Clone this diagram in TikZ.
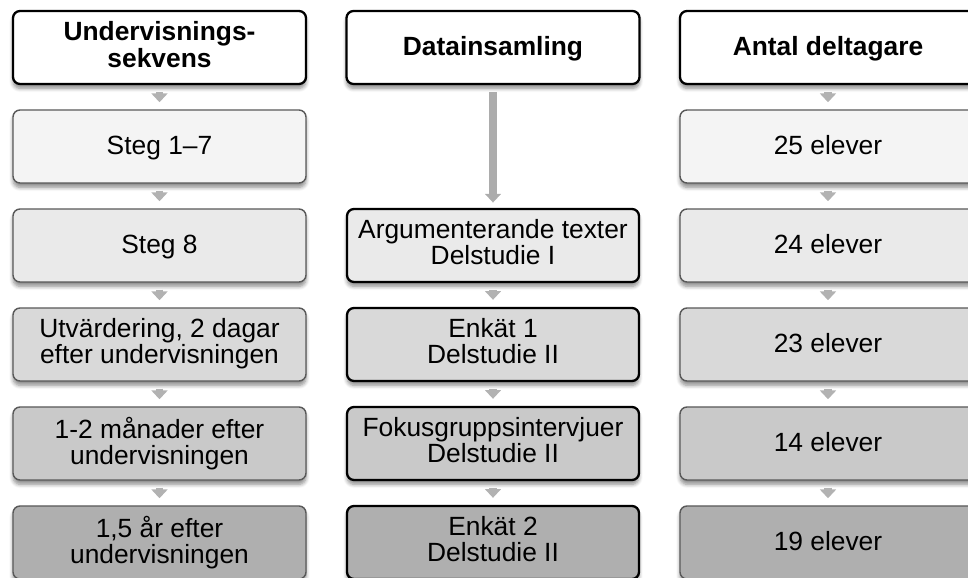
\documentclass[tikz,border=0pt]{standalone}
\usepackage{fontspec}
\setmainfont{Liberation Sans}
\usetikzlibrary{arrows.meta,shadows.blur}

\definecolor{toneA}{HTML}{F4F4F4}
\definecolor{toneB}{HTML}{EAEAEA}
\definecolor{toneC}{HTML}{D9D9D9}
\definecolor{toneD}{HTML}{C9C9C9}
\definecolor{toneE}{HTML}{AFAFAF}

\begin{document}
\begin{tikzpicture}[
    box/.style={rectangle, rounded corners=4pt, minimum width=5.86cm,
                minimum height=1.46cm, inner sep=0pt, align=center,
                font=\fontsize{15}{14.8}\selectfont,
                % same top and bottom strut in every box
                execute at begin node={\rule{0pt}{12.5pt}},
                execute at end node={\rule[-3.5pt]{0pt}{3.5pt}},
                blur shadow={shadow xshift=0pt, shadow yshift=-2.5pt,
                             shadow blur steps=6, shadow opacity=45}},
    headbox/.style={box, draw=black, line width=1.3pt, fill=white,
                    font=\fontsize{15}{15.3}\selectfont\bfseries},
    softbox/.style={box, draw=black!65, line width=0.8pt},
    hardbox/.style={box, draw=black, line width=1.3pt},
    link/.style={gray!60, line width=4pt,
                 -{Triangle[width=9pt,length=5pt]},
                 shorten <=4pt, shorten >=4pt},
    longlink/.style={link, gray!65, line width=4.5pt,
                     -{Triangle[width=9pt,length=5pt]}, shorten >=3pt}
]
\useasboundingbox (0,0) rectangle (19.36,-11.56);

% =========================================================
% LEFT COLUMN: teaching sequence
% =========================================================
\node[headbox] (hSeq) at (3.19,-0.95) {Undervisnings-\\sekvens};
\node[softbox, fill=toneA] (seq1) at (3.19,-2.93) {Steg 1--7};
\node[softbox, fill=toneB] (seq2) at (3.19,-4.91) {Steg 8};
\node[softbox, fill=toneC] (seq3) at (3.19,-6.89)
     {Utvärdering, 2 dagar\\efter undervisningen};
\node[softbox, fill=toneD] (seq4) at (3.19,-8.87)
     {1-2 månader efter\\undervisningen};
\node[softbox, fill=toneE] (seq5) at (3.19,-10.85)
     {1,5 år efter\\undervisningen};

% =========================================================
% MIDDLE COLUMN: data collection
% =========================================================
\node[headbox] (hData) at (9.86,-0.95) {Datainsamling};
\node[hardbox, fill=toneB, minimum width=5.84cm] (data2) at (9.86,-4.91)
     {Argumenterande texter\\Delstudie I};
\node[hardbox, fill=toneC, minimum width=5.84cm] (data3) at (9.86,-6.89)
     {Enkät 1\\Delstudie II};
\node[hardbox, fill=toneD, minimum width=5.84cm] (data4) at (9.86,-8.87)
     {Fokusgruppsintervjuer\\Delstudie II};
\node[hardbox, fill=toneE, minimum width=5.84cm] (data5) at (9.86,-10.85)
     {Enkät 2\\Delstudie II};

% =========================================================
% RIGHT COLUMN: number of participants
% =========================================================
\node[headbox, minimum width=5.92cm] (hCount) at (16.56,-0.95) {Antal deltagare};
\node[softbox, fill=toneA, minimum width=5.92cm] (count1) at (16.56,-2.93) {25 elever};
\node[softbox, fill=toneB, minimum width=5.92cm] (count2) at (16.56,-4.91) {24 elever};
\node[softbox, fill=toneC, minimum width=5.92cm] (count3) at (16.56,-6.89) {23 elever};
\node[softbox, fill=toneD, minimum width=5.92cm] (count4) at (16.56,-8.87) {14 elever};
\node[softbox, fill=toneE, minimum width=5.92cm] (count5) at (16.56,-10.85) {19 elever};

% --- connectors ---
\draw[link] (hSeq) -- (seq1);
\draw[link] (hCount) -- (count1);
\foreach \a/\b in {1/2,2/3,3/4,4/5} {
  \draw[link] (seq\a) -- (seq\b);
  \draw[link] (count\a) -- (count\b);
}
\foreach \a/\b in {2/3,3/4,4/5}
  \draw[link] (data\a) -- (data\b);
\draw[longlink] (hData) -- (data2);

\end{tikzpicture}
\end{document}
